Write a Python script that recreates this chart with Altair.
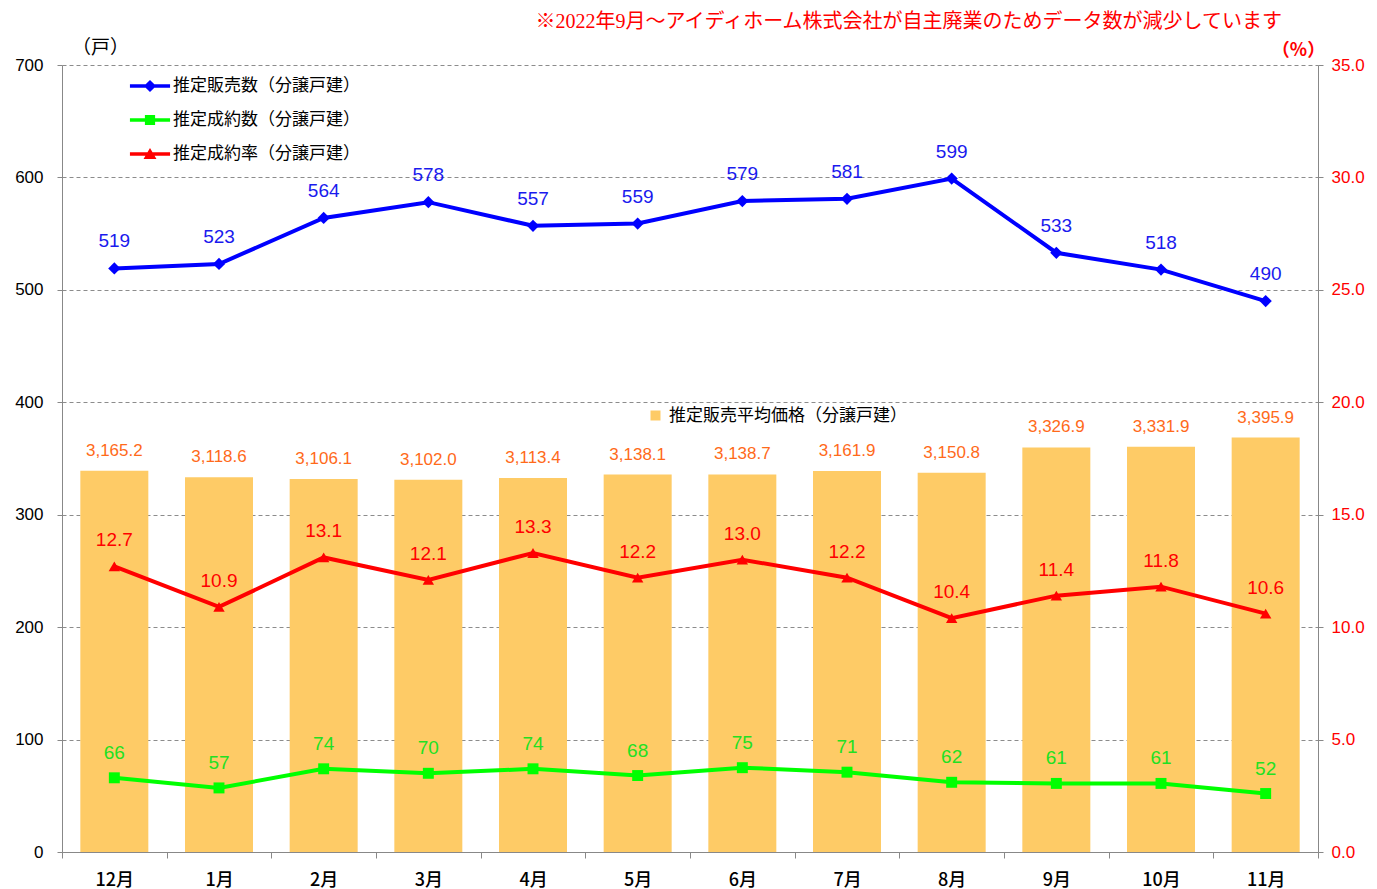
import altair as alt
import pandas as pd

months = ["12月", "1月", "2月", "3月", "4月", "5月", "6月", "7月", "8月", "9月", "10月", "11月"]
sales = [519, 523, 564, 578, 557, 559, 579, 581, 599, 533, 518, 490]
contracts = [66, 57, 74, 70, 74, 68, 75, 71, 62, 61, 61, 52]
rate = [12.7, 10.9, 13.1, 12.1, 13.3, 12.2, 13.0, 12.2, 10.4, 11.4, 11.8, 10.6]
price = [3165.2, 3118.6, 3106.1, 3102.0, 3113.4, 3138.1, 3138.7, 3161.9, 3150.8, 3326.9, 3331.9, 3395.9]

series_names = ["推定販売数（分譲戸建）", "推定成約数（分譲戸建）", "推定成約率（分譲戸建）"]
bar_name = "推定販売平均価格（分譲戸建）"
note = "※2022年9月～アイディホーム株式会社が自主廃業のためデータ数が減少しています"

BLUE = "#0000FF"
GREEN = "#00FF00"
RED = "#FF0000"
BAR = "#FECB66"
ORANGE = "#FF6A1A"
JP = "Noto Sans CJK JP"
NUM = "Liberation Sans"

df = pd.DataFrame({"month": months, "sales": sales, "contracts": contracts,
                   "rate": rate, "price": price, "bs": [bar_name] * len(months)})
legend_df = pd.DataFrame({"series": series_names})

x_enc = alt.X("month:N", sort=months,
              scale=alt.Scale(paddingInner=0, paddingOuter=0),
              axis=alt.Axis(title=None, tickBand="extent", labelAngle=0, labelFontSize=18,
                            labelFont=JP, labelColor="black", labelPadding=13, tickSize=6,
                            labelFontWeight=500,
                            domainColor="#888888", tickColor="#888888", grid=False))

base = alt.Chart(df)

y_price = alt.Y("price:Q", scale=alt.Scale(domain=[500, 6000], zero=False), axis=None)
bars = base.mark_bar(size=68).encode(
    x=x_enc, y=y_price, y2=alt.datum(500),
    fill=alt.Fill("bs:N", scale=alt.Scale(domain=[bar_name], range=[BAR]),
                  legend=alt.Legend(title=None, orient="none", legendX=585, legendY=342,
                                    symbolType="square", symbolSize=100, symbolStrokeWidth=0,
                                    labelFontSize=17, labelFont=JP, labelColor="black",
                                    labelOffset=5, padding=0, labelLimit=0)))
bar_text = base.mark_text(dy=-20, fontSize=17, font=NUM, color=ORANGE).encode(
    x=x_enc, y=y_price, text=alt.Text("price:Q", format=",.1f"))

left_axis = alt.Axis(values=list(range(0, 701, 100)), grid=True, gridDash=[4, 3],
                     gridColor="#8C8C8C", domainColor="#888888", tickColor="#888888",
                     tickSize=5, labelFontSize=17, labelFont=NUM, labelColor="black",
                     labelPadding=14, title="（戸）", titleAngle=0, titleX=38, titleY=-18,
                     titleFontSize=19, titleFont=JP, titleFontWeight="normal",
                     titleAlign="center", titleBaseline="middle", titleColor="black")
y_sales = alt.Y("sales:Q", scale=alt.Scale(domain=[0, 700]), axis=left_axis)
y_sales_plain = alt.Y("sales:Q", scale=alt.Scale(domain=[0, 700]), axis=None)
y_con = alt.Y("contracts:Q", scale=alt.Scale(domain=[0, 700]), axis=None)

right_axis = alt.Axis(orient="right", values=list(range(0, 36, 5)), format=".1f", grid=False,
                      domainColor="#888888", tickColor="#888888", tickSize=5,
                      labelFontSize=17, labelFont=NUM, labelColor=RED, labelPadding=8,
                      title="（%）", titleAngle=0, titleX=-20, titleY=-15, titleFontSize=18,
                      titleFont=JP, titleFontWeight="bold", titleColor=RED,
                      titleAlign="center", titleBaseline="middle")
y_rate = alt.Y("rate:Q", scale=alt.Scale(domain=[0, 35]), axis=right_axis)
y_rate_plain = alt.Y("rate:Q", scale=alt.Scale(domain=[0, 35]), axis=None)

sales_line = base.mark_line(color=BLUE, strokeWidth=4).encode(x=x_enc, y=y_sales)
sales_pts = base.mark_point(shape="diamond", filled=True, size=150, color=BLUE, opacity=1).encode(x=x_enc, y=y_sales_plain)
sales_txt = base.mark_text(dy=-27, fontSize=19, font=NUM, color="#1A1AEE").encode(x=x_enc, y=y_sales_plain, text="sales:Q")

con_line = base.mark_line(color=GREEN, strokeWidth=4).encode(x=x_enc, y=y_con)
con_pts = base.mark_point(shape="square", filled=True, size=120, color=GREEN, opacity=1).encode(x=x_enc, y=y_con)
con_txt = base.mark_text(dy=-25, fontSize=19, font=NUM, color="#22E022").encode(x=x_enc, y=y_con, text="contracts:Q")

rate_line = base.mark_line(color=RED, strokeWidth=4).encode(x=x_enc, y=y_rate)
rate_pts = base.mark_point(shape="triangle-up", filled=True, size=130, color=RED, opacity=1).encode(x=x_enc, y=y_rate_plain)
rate_txt = base.mark_text(dy=-26, fontSize=19, font=NUM, color=RED).encode(
    x=x_enc, y=y_rate_plain, text=alt.Text("rate:Q", format=".1f"))

bar_seg = "M-1.18,-0.1H1.18V0.1H-1.18Z "
paths = [bar_seg + "M0,-0.36L0.36,0L0,0.36L-0.36,0Z",
         bar_seg + "M-0.3,-0.3H0.3V0.3H-0.3Z",
         bar_seg + "M0,-0.36L0.38,0.3L-0.38,0.3Z"]
leg = alt.Legend(title=None, orient="none", legendX=71, legendY=4, symbolSize=1156,
                 symbolStrokeWidth=0, labelFontSize=17, labelFont=JP, labelColor="black",
                 labelOffset=6, rowPadding=9, padding=0, labelLimit=0)
legend_layer = alt.Chart(legend_df).mark_point(filled=True, opacity=1).encode(
    color=alt.Color("series:N", scale=alt.Scale(domain=series_names, range=[BLUE, GREEN, RED]), legend=leg),
    shape=alt.Shape("series:N", scale=alt.Scale(domain=series_names, range=paths), legend=leg),
).transform_filter("false")

chart = alt.layer(
    bars, sales_line, rate_line, con_line, bar_text,
    sales_pts, con_pts, rate_pts, sales_txt, con_txt, rate_txt, legend_layer
).resolve_scale(y="independent").properties(
    width=1256, height=787,
    padding={"left": 54, "top": 57, "right": 51, "bottom": 38},
    autosize=alt.AutoSizeParams(type="none"),
    title=alt.TitleParams(note, color=RED, fontSize=20, font="Liberation Serif, Noto Sans CJK JP",
                          fontWeight="normal", anchor="end", frame="group", dx=-36, offset=6),
).configure_view(stroke=None)

chart.save("out.html", embed_options={"renderer": "svg", "actions": False})
